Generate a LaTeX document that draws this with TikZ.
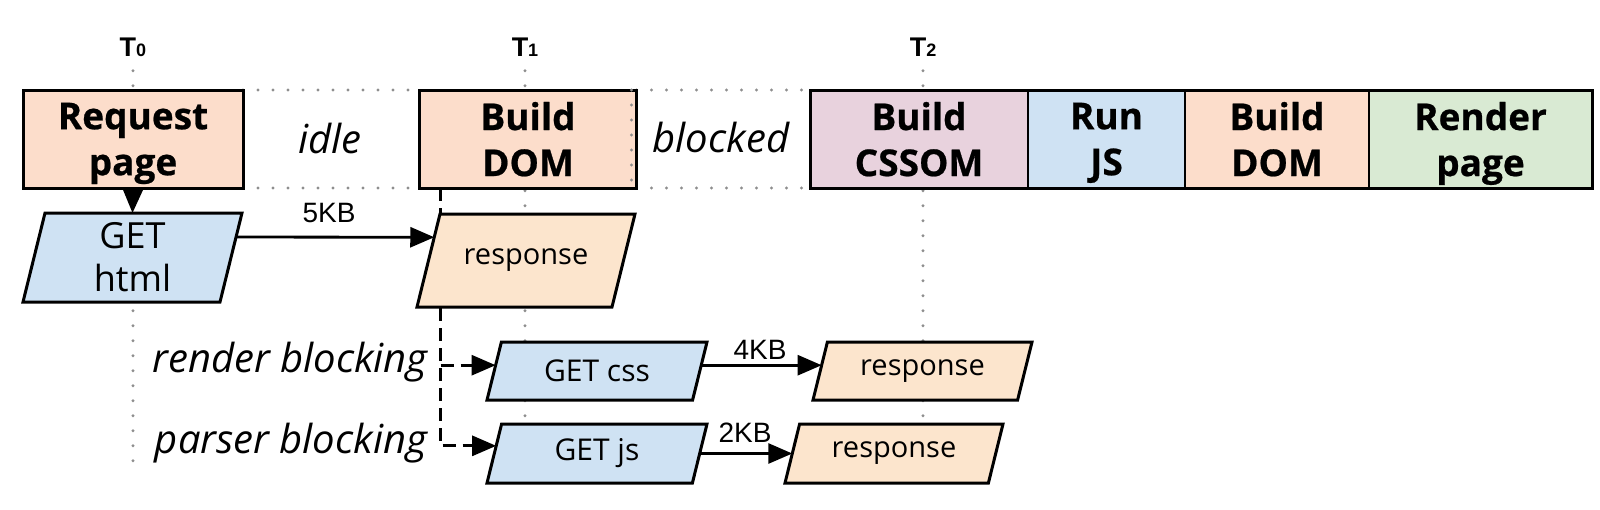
\documentclass[tikz,border=0pt]{standalone}
\usepackage{fontspec}
\setmainfont{Open Sans}
\newfontfamily\heavyfont[BoldFeatures={FakeBold=0.6}]{Open Sans}
\newfontfamily\arialf{Liberation Sans}
\usetikzlibrary{arrows.meta,calc}
\pgfdeclarelayer{guides}
\pgfdeclarelayer{shapes}
\pgfsetlayers{guides,shapes,main}
\definecolor{peach}{HTML}{FCDDCB}
\definecolor{resp}{HTML}{FCE5CD}
\definecolor{getblue}{HTML}{CFE2F3}
\definecolor{cssom}{HTML}{E8D2DD}
\definecolor{rgreen}{HTML}{D9EAD3}
\definecolor{dotgrey}{HTML}{8E8E8E}
\tikzset{
  stage/.style={draw, line width=1pt, minimum height=49pt, inner sep=0pt, outer sep=0pt,
    align=center, text depth=0pt, font=\heavyfont\fontsize{18.5}{23}\selectfont\bfseries},
  para/.style={inner sep=0pt, outer sep=0pt, align=center},
  pshape/.style={line width=1.5pt, line join=miter},
  tline/.style={draw=dotgrey, line width=1.6pt, line cap=round, dash pattern=on 0pt off 7.5pt},
  conn/.style={line width=1.4pt, -{Triangle[length=12pt,width=10pt]}},
  dashconn/.style={line width=1.4pt, dash pattern=on 6.5pt off 3.5pt, -{Triangle[length=12pt,width=10pt]}},
  tlabel/.style={inner sep=0pt, font=\arialf\fontsize{13.5}{14}\selectfont\bfseries},
  kb/.style={inner sep=0pt, font=\arialf\fontsize{14}{15}\selectfont},
  note/.style={inner sep=0pt, anchor=base, font=\fontsize{20}{22}\selectfont\itshape},
}
\begin{document}
\begin{tikzpicture}[x=0.5pt,y=-0.5pt]
\begin{pgfonlayer}{guides}
\useasboundingbox[fill=white] (0,0) rectangle (1600,509);
\end{pgfonlayer}

% time labels
\node[tlabel] (t0) at (133,47) {T{\fontsize{9}{9}\selectfont 0}};
\node[tlabel] (t1) at (525,47) {T{\fontsize{9}{9}\selectfont 1}};
\node[tlabel] (t2) at (923,47) {T{\fontsize{9}{9}\selectfont 2}};

% main-thread stages
\node[stage, line width=1.5pt, fill=peach, minimum width=110pt] (req) at (133,139) {Request\\page};
\node[stage, line width=1.5pt, fill=peach, minimum width=108.5pt] (dom1) at (528,139) {Build\\DOM};
\node[stage, fill=cssom, minimum width=109pt] (cssom) at (919,139) {Build\\CSSOM};
\node[stage, fill=getblue, minimum width=78.5pt] (js) at (1106.5,139) {Run\\JS};
\node[stage, fill=peach, minimum width=92pt] (dom2) at (1277,139) {Build\\DOM};
\node[stage, fill=rgreen, minimum width=111.5pt] (render) at (1480.5,139) {Render\\page};
\draw[line width=1.5pt] (cssom.north west) rectangle (render.south east);

% network requests (text nodes; outlines drawn on the shapes layer)
\node[para, minimum width=109.5pt, minimum height=44.5pt,
  font=\fontsize{18}{21.5}\selectfont] (gethtml) at (132.5,257.5) {GET\\html};
\node[para, minimum width=109pt, minimum height=46.5pt,
  font=\fontsize{14.5}{16}\selectfont] (resp1) at (526,260.5) {response};
\node[para, minimum width=110pt, minimum height=29pt,
  font=\fontsize{15}{16}\selectfont] (getcss) at (597,371) {GET css};
\node[para, minimum width=110pt, minimum height=29.5pt,
  font=\fontsize{15}{16}\selectfont] (getjs) at (597,453.5) {GET js};
\node[para, minimum width=109.5pt, minimum height=29pt,
  font=\fontsize{14.5}{16}\selectfont] (resp2) at (922.5,371) {response};
\node[para, minimum width=109pt, minimum height=29.5pt,
  font=\fontsize{14.5}{16}\selectfont] (resp3) at (894,453.5) {response};

\begin{pgfonlayer}{shapes}
\foreach \n/\c/\s in {gethtml/getblue/11, resp1/resp/11.5, getcss/getblue/7.2,
    getjs/getblue/7.3, resp2/resp/7.2, resp3/resp/7.3}{
  \draw[pshape, fill=\c] ([xshift=\s pt]\n.north west) -- (\n.north east)
    -- ([xshift=-\s pt]\n.south east) -- (\n.south west) -- cycle;
}
\end{pgfonlayer}

% texts
\node[note] (idle) at (330,153) {idle};
\node[note] (blocked) at (721,152) {blocked};
\node[note] (rb) at (290,372) {render blocking};
\node[note] (pb) at (291,453) {parser blocking};
\node[kb] (kb5) at (329,213) {5KB};
\node[kb] (kb4) at (760,350) {4KB};
\node[kb] (kb2) at (745,433) {2KB};

% background guides
\begin{pgfonlayer}{guides}
  \draw[tline] (t0.south) ++(0,14) -- (t0.south |- 0,465);
  \draw[tline] (t1.south) ++(0,14) -- (t1.south |- 0,465);
  \draw[tline] (t2.south) ++(0,14) -- (t2.south |- 0,465);
  \draw[tline] (req.north east) -- (dom1.north west);
  \draw[tline] (req.south east) -- (dom1.south west);
  \draw[tline] (dom1.north east) -- (cssom.north west);
  \draw[tline] (dom1.south east) -- (cssom.south west);
  \coordinate (dtop) at ([xshift=10.5pt]dom1.south west);
  \coordinate (cssL) at ($([xshift=7.2pt]getcss.north west)!0.4!(getcss.south west)$);
  \coordinate (jsL) at ($([xshift=7.3pt]getjs.north west)!0.37!(getjs.south west)$);
  \draw[dashconn] (dtop) -- (dtop |- jsL) -- (jsL);
  \draw[dashconn] (dtop |- cssL) -- (cssL);
\end{pgfonlayer}
\draw[tline] ([xshift=-2.5pt]dom1.north east) -- ([xshift=-2.5pt]dom1.south east);

% connectors
\draw[conn] (req.south) -- (gethtml.north);
\draw[conn] ($(gethtml.north east)!0.27!([xshift=-11pt]gethtml.south east)$) --
  ($([xshift=11.5pt]resp1.north west)!0.25!(resp1.south west)$);
\draw[conn] ($(getcss.north east)!0.4!([xshift=-7.2pt]getcss.south east)$) --
  ($([xshift=7.2pt]resp2.north west)!0.4!(resp2.south west)$);
\draw[conn] ($(getjs.north east)!0.5!([xshift=-7.3pt]getjs.south east)$) --
  ($([xshift=7.3pt]resp3.north west)!0.5!(resp3.south west)$);
\end{tikzpicture}
\end{document}
